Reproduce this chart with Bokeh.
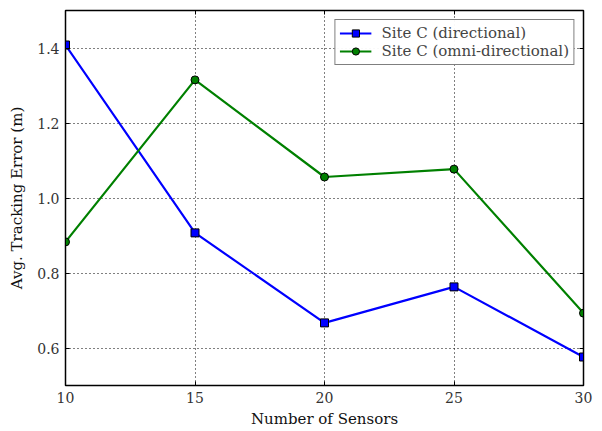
from bokeh.plotting import figure
from bokeh.models import Range1d, FixedTicker, Legend, LegendItem, LinearAxis, CustomJSTickFormatter
from bokeh.embed import file_html
from bokeh.resources import INLINE

sensors = [10, 15, 20, 25, 30]
directional = [1.408, 0.907, 0.667, 0.763, 0.576]
omni = [0.883, 1.315, 1.056, 1.077, 0.693]
x_ticks = [10, 15, 20, 25, 30]
y_ticks = [0.6, 0.8, 1.0, 1.2, 1.4]

FONT = "DejaVu Serif"

p = figure(width=602, height=431, output_backend="svg", toolbar_location=None,
           x_range=Range1d(10, 30), y_range=Range1d(0.5, 1.5),
           min_border_left=65, min_border_right=19, min_border_top=10, min_border_bottom=46)
p.outline_line_color = "black"
p.outline_line_width = 1.5
p.background_fill_color = "white"
p.border_fill_color = "white"

top = LinearAxis()
right = LinearAxis()
p.add_layout(top, "above")
p.add_layout(right, "right")
bottom = p.below[0]
left = p.left[0]

for ax, ticks in ((bottom, x_ticks), (left, y_ticks), (top, x_ticks), (right, y_ticks)):
    ax.ticker = FixedTicker(ticks=ticks)
    ax.major_tick_in = 4
    ax.major_tick_out = 0
    ax.minor_tick_line_color = None
    ax.axis_line_color = "black"
    ax.major_tick_line_color = "black"
    ax.major_label_text_font = FONT
    ax.major_label_text_font_size = "14px"
    ax.major_label_text_color = "#333333"
    ax.axis_label_text_font = FONT
    ax.axis_label_text_font_size = "15px"
    ax.axis_label_text_font_style = "normal"
    ax.axis_label_text_color = "#111111"

for ax in (top, right):
    ax.formatter = CustomJSTickFormatter(code="return '';")
    ax.major_label_standoff = 0

left.formatter = CustomJSTickFormatter(code="return tick.toFixed(1);")
bottom.axis_label = "Number of Sensors"
left.axis_label = "Avg. Tracking Error (m)"
bottom.major_label_standoff = 6
left.major_label_standoff = 6
bottom.axis_label_standoff = 4
left.axis_label_standoff = 8

for g in (p.xgrid[0], p.ygrid[0]):
    g.grid_line_color = "black"
    g.grid_line_dash = "1 3"
    g.grid_line_width = 1

l1 = p.line(sensors, directional, line_color="#0000ff", line_width=2.2)
m1 = p.scatter(sensors, directional, marker="square", size=8, fill_color="#0000ff", line_color="black")
l2 = p.line(sensors, omni, line_color="#008000", line_width=2.2)
m2 = p.scatter(sensors, omni, marker="circle", size=8, fill_color="#008000", line_color="black")

legend = Legend(items=[
    LegendItem(label="Site C (directional)", renderers=[l1, m1]),
    LegendItem(label="Site C (omni-directional)", renderers=[l2, m2]),
], location="top_right")
legend.label_text_font = FONT
legend.label_text_font_size = "15px"
legend.border_line_color = "black"
legend.border_line_width = 1
legend.margin = 9
legend.padding = 4
legend.spacing = 0
legend.label_height = 18
legend.glyph_height = 18
legend.glyph_width = 32
legend.label_standoff = 10
p.add_layout(legend)

open("out.html", "w").write(file_html(p, INLINE))
